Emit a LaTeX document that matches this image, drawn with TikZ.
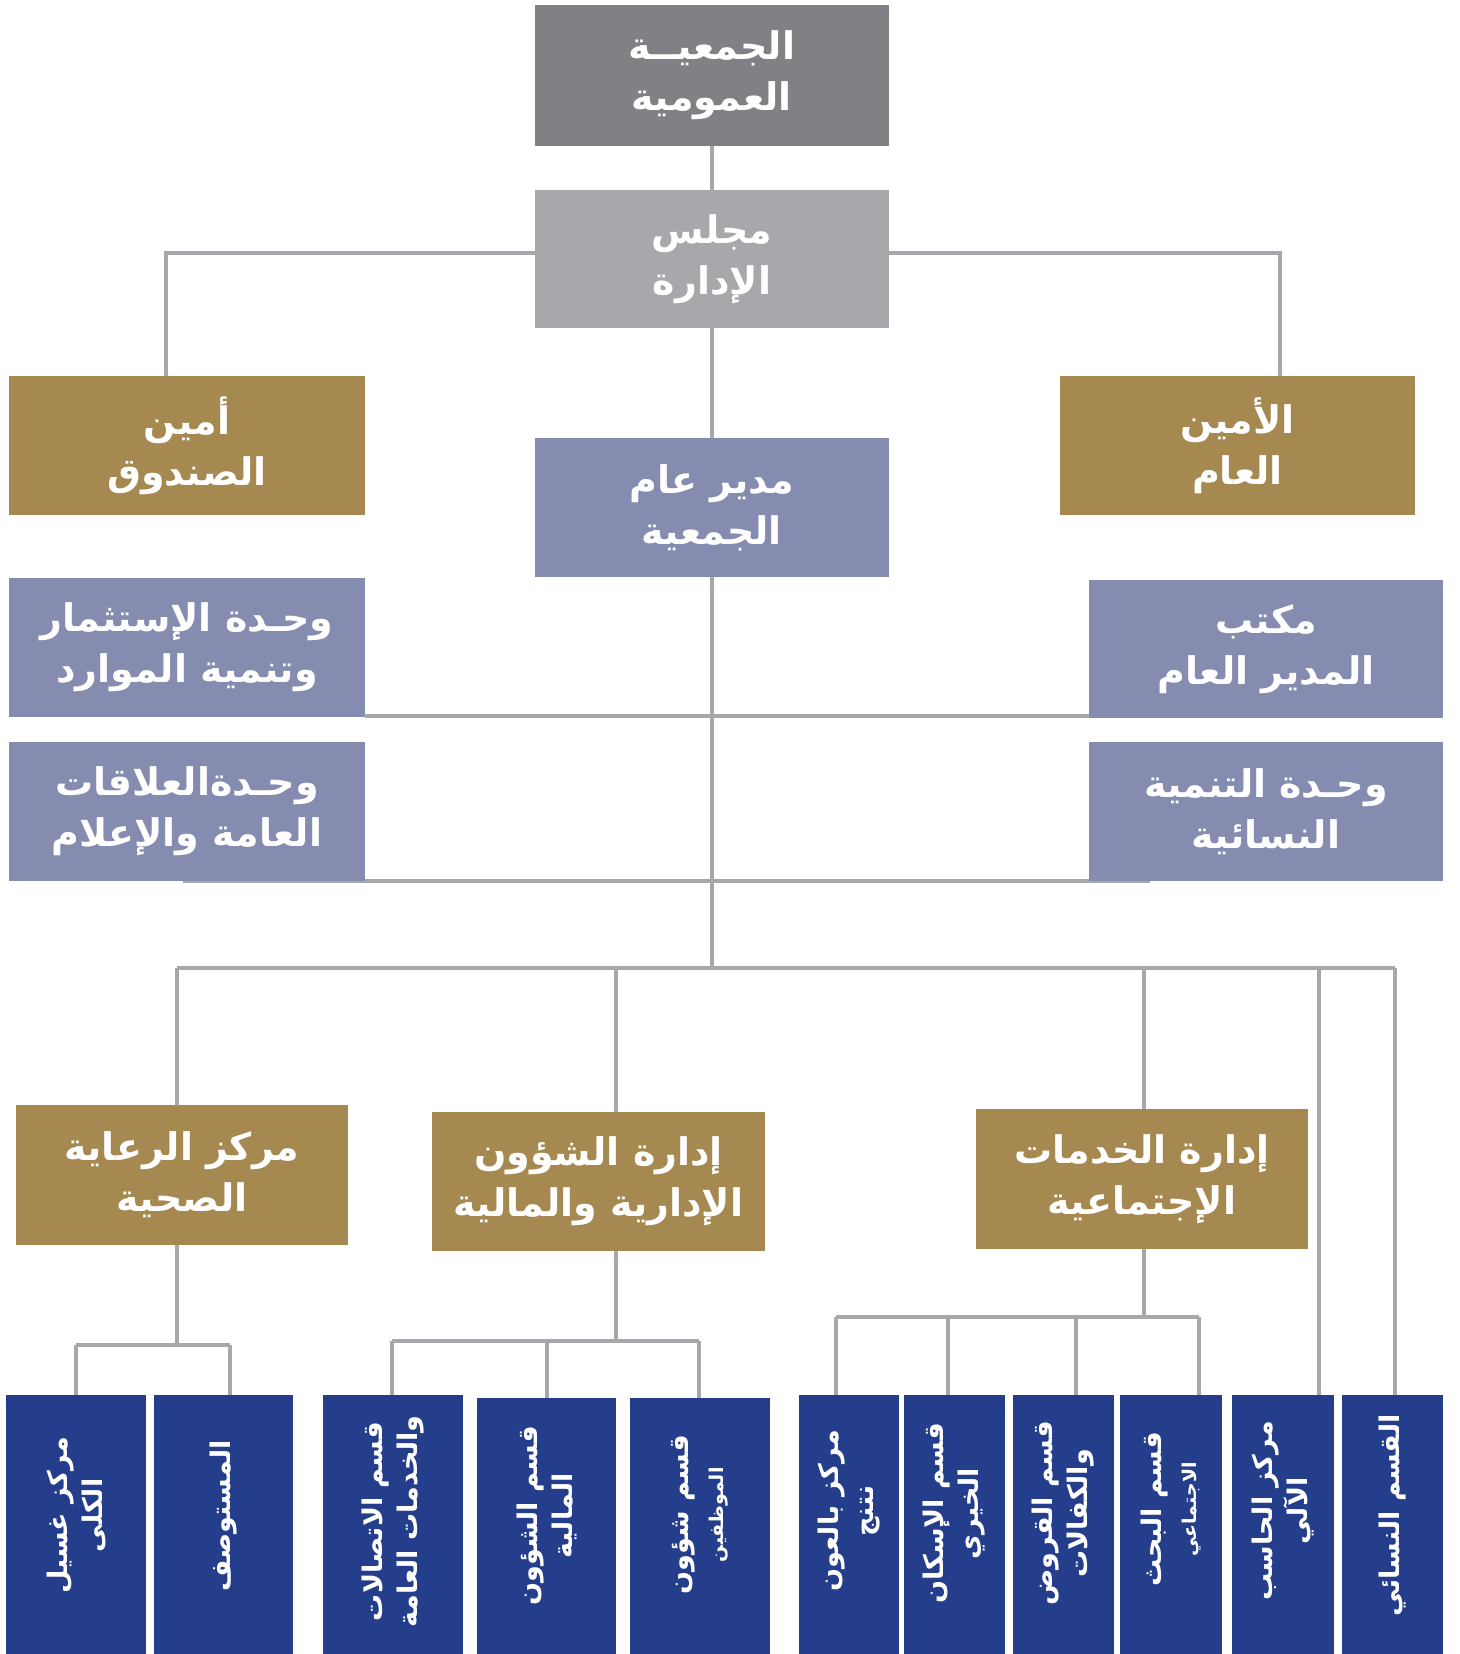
\documentclass[tikz,border=0pt]{standalone}
\usepackage{fontspec}
\newfontfamily\arabicfont[Script=Arabic]{DejaVu Sans}
\newfontfamily\arabicbold[Script=Arabic]{DejaVu Sans Bold}
\TeXXeTstate=1
\newcommand\AR[1]{\beginR#1\endR}
\usetikzlibrary{calc}
\pgfdeclarelayer{background}
\pgfsetlayers{background,main}
\definecolor{cTop}{RGB}{128,129,133}
\definecolor{cBoard}{RGB}{167,168,172}
\definecolor{cGold}{RGB}{166,137,80}
\definecolor{cLav}{RGB}{134,140,175}
\definecolor{cNavy}{RGB}{36,62,139}
\definecolor{cLine}{RGB}{167,168,171}
\begin{document}
\begin{tikzpicture}[x=1pt,y=-1pt,
  box/.style={rectangle, inner sep=0pt, outer sep=0pt, text=white, align=center,
    font=\arabicbold\fontsize{38}{51}\selectfont, anchor=north west},
  topbox/.style={box, fill=cTop},
  boardbox/.style={box, fill=cBoard},
  goldbox/.style={box, fill=cGold},
  lavbox/.style={box, fill=cLav},
  navybox/.style={rectangle, inner sep=0pt, outer sep=0pt, fill=cNavy, anchor=north west},
  vtext/.style={rotate=90, anchor=east, inner sep=0pt, text=white, align=center,
    font=\arabicbold\fontsize{27}{35}\selectfont},
  conn/.style={draw=cLine, line width=4pt}
]
\useasboundingbox (0,0) rectangle (1459,1654);
\begin{pgfonlayer}{background}
\fill[white] (0,0) rectangle (1459,1654);
\end{pgfonlayer}

% ---- upper boxes
\node[topbox, minimum width=354pt, minimum height=141pt] (gen) at (535,5)
  {\AR{الجمعيــة}\\\AR{العمومية}};
\node[boardbox, minimum width=354pt, minimum height=138pt] (board) at (535,190)
  {\AR{مجلس}\\\AR{الإدارة}};
\node[goldbox, minimum width=356pt, minimum height=139pt] (treas) at (9,376)
  {\AR{أمين}\\\AR{الصندوق}};
\node[goldbox, minimum width=355pt, minimum height=139pt] (sec) at (1060,376)
  {\AR{الأمين}\\\AR{العام}};
\node[lavbox, minimum width=354pt, minimum height=139pt] (dir) at (535,438)
  {\AR{مدير عام}\\\AR{الجمعية}};
\node[lavbox, minimum width=356pt, minimum height=139pt] (inv) at (9,578)
  {\AR{وحـدة الإستثمار}\\\AR{وتنمية الموارد}};
\node[lavbox, minimum width=354pt, minimum height=138pt] (off) at (1089,580)
  {\AR{مكتب}\\\AR{المدير العام}};
\node[lavbox, minimum width=356pt, minimum height=139pt] (rel) at (9,742)
  {\AR{وحـدةالعلاقات}\\\AR{العامة والإعلام}};
\node[lavbox, minimum width=354pt, minimum height=139pt] (wom) at (1089,742)
  {\AR{وحـدة التنمية}\\\AR{النسائية}};

% ---- middle boxes
\node[goldbox, minimum width=332pt, minimum height=140pt] (health) at (16,1105)
  {\AR{مركز الرعاية}\\\AR{الصحية}};
\node[goldbox, minimum width=333pt, minimum height=139pt] (admin) at (432,1112)
  {\AR{إدارة الشؤون}\\\AR{الإدارية والمالية}};
\node[goldbox, minimum width=332pt, minimum height=140pt] (social) at (976,1109)
  {\AR{إدارة الخدمات}\\\AR{الإجتماعية}};

% ---- bottom boxes
\node[navybox, minimum width=140pt, minimum height=259pt] (k1) at (6,1395) {};
\node[navybox, minimum width=139pt, minimum height=259pt] (k2) at (154,1395) {};
\node[navybox, minimum width=140pt, minimum height=259pt] (k3) at (323,1395) {};
\node[navybox, minimum width=139pt, minimum height=256pt] (k4) at (477,1398) {};
\node[navybox, minimum width=140pt, minimum height=256pt] (k5) at (630,1398) {};
\node[navybox, minimum width=100pt, minimum height=259pt] (k6) at (799,1395) {};
\node[navybox, minimum width=101pt, minimum height=259pt] (k7) at (904,1395) {};
\node[navybox, minimum width=101pt, minimum height=259pt] (k8) at (1013,1395) {};
\node[navybox, minimum width=102pt, minimum height=259pt] (k9) at (1120,1395) {};
\node[navybox, minimum width=102pt, minimum height=259pt] (k10) at (1232,1395) {};
\node[navybox, minimum width=101pt, minimum height=259pt] (k11) at (1342,1395) {};

\node[vtext] (k1t) at (k1.north |- 0,1437) {\AR{مركز غسيل}\\\AR{الكلى}};
\node[vtext] (k2t) at (k2.north |- 0,1440) {\AR{المستوصف}};
\node[vtext] (k3t) at (k3.north |- 0,1415) {\AR{قسم الاتصالات}\\\AR{والخدمات العامة}};
\node[vtext] (k4t) at (k4.north |- 0,1426) {\AR{قسم الشؤون}\\\AR{المالية}};
\node[vtext] (k5t) at (k5.north |- 0,1435) {\AR{قسم شؤون}\\{\fontsize{19}{23}\selectfont\AR{الموظفين}}};
\node[vtext] (k6t) at (k6.north |- 0,1430) {\AR{مركز بالعون}\\\AR{نتنج}};
\node[vtext] (k7t) at (k7.north |- 0,1423) {\AR{قسم الإسكان}\\\AR{الخيري}};
\node[vtext] (k8t) at (k8.north |- 0,1421) {\AR{قسم القروض}\\\AR{والكفالات}};
\node[vtext] (k9t) at (k9.north |- 0,1432) {\AR{قسم البحث}\\{\fontsize{19}{23}\selectfont\AR{الاجتماعي}}};
\node[vtext] (k10t) at (k10.north |- 0,1421) {\AR{مركز الحاسب}\\\AR{الآلي}};
\node[vtext] (k11t) at (k11.north |- 0,1414) {\AR{القسم النسائي}};

% ---- connectors
\draw[conn] (gen.south) -- (board.north);
\coordinate (tL) at (166,253);
\coordinate (tR) at (1280,253);
\draw[conn] (board.west |- tL) -- (tL) -- (tL |- treas.north);
\draw[conn] (board.east |- tR) -- (tR) -- (tR |- sec.north);
\draw[conn] (board.south) -- (dir.north);

\coordinate (r1) at (0,716);
\coordinate (r2a) at (183,881);
\coordinate (r2b) at (1150,881);
\draw[conn] (inv.east |- r1) -- (off.west |- r1);
\begin{pgfonlayer}{background}
\draw[conn] (r2a) -- (r2b);
\end{pgfonlayer}

\coordinate (busL) at (177,968);
\coordinate (busR) at (1395,968);
\coordinate (dA) at (616,968);
\coordinate (dS) at (1144,968);
\coordinate (d10) at (1319,968);
\draw[conn] (dir.south) -- (dir.south |- busL);
\draw[conn] (busL) -- (busR);
\draw[conn] (busL) -- (busL |- health.north);
\draw[conn] (dA) -- (dA |- admin.north);
\draw[conn] (dS) -- (dS |- social.north);
\draw[conn] (d10) -- (d10 |- k10.north);
\draw[conn] (busR) -- (busR |- k11.north);

% health children
\coordinate (hA) at (76,1345);
\coordinate (hB) at (230,1345);
\draw[conn] (busL |- health.south) -- (busL |- hA);
\draw[conn] (hA) -- (hB);
\draw[conn] (hA) -- (hA |- k1.north);
\draw[conn] (hB) -- (hB |- k2.north);

% admin children
\coordinate (aL) at (392,1341);
\coordinate (aM) at (547,1341);
\coordinate (aR) at (699,1341);
\draw[conn] (dA |- admin.south) -- (dA |- aL);
\draw[conn] (aL) -- (aR);
\draw[conn] (aL) -- (aL |- k3.north);
\draw[conn] (aM) -- (aM |- k4.north);
\draw[conn] (aR) -- (aR |- k5.north);

% social children
\coordinate (s1) at (836,1317);
\coordinate (s2) at (948,1317);
\coordinate (s3) at (1076,1317);
\coordinate (s4) at (1199,1317);
\draw[conn] (dS |- social.south) -- (dS |- s1);
\draw[conn] (s1) -- (s4);
\draw[conn] (s1) -- (s1 |- k6.north);
\draw[conn] (s2) -- (s2 |- k7.north);
\draw[conn] (s3) -- (s3 |- k8.north);
\draw[conn] (s4) -- (s4 |- k9.north);
\end{tikzpicture}
\end{document}
